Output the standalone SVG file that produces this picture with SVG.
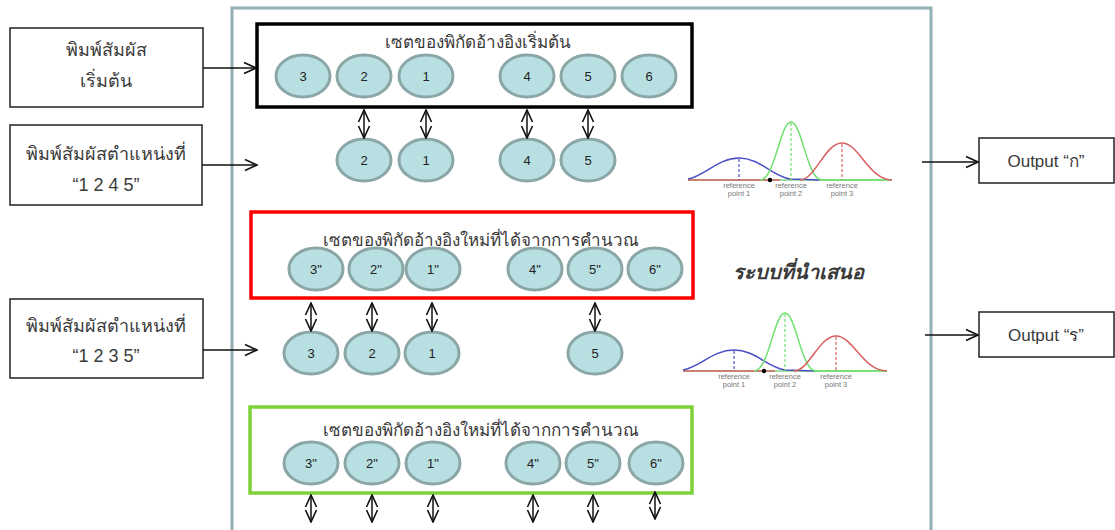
<svg xmlns="http://www.w3.org/2000/svg" width="1115" height="530" viewBox="0 0 1115 530">
  <style>
    .box { fill: #ffffff; stroke: #222222; stroke-width: 1.5; }
    .th { font-family: "Liberation Sans", "Noto Sans", "DejaVu Sans", sans-serif; fill: #3a3a3a; text-anchor: middle; }
    .lbl { font-size: 18px; }
    .ttl { font-size: 17px; }
    .num { font-family: "Liberation Sans", Arial, sans-serif; font-size: 13px; fill: #222222; text-anchor: middle; dominant-baseline: central; }
    .pt { fill: #b8dfe2; stroke: #8ba6a6; stroke-width: 3; }
    .link { stroke: #111111; stroke-width: 1.5; fill: none; }
    .dbl { stroke: #111111; stroke-width: 1.5; fill: none; marker-start: url(#open); marker-end: url(#open); }
    .ref { font-family: "Liberation Sans", Arial, sans-serif; font-size: 7.5px; fill: #777777; text-anchor: middle; }
    .curve { fill: none; stroke-width: 1.5; }
    .dash { fill: none; stroke-width: 1.2; stroke-dasharray: 3 2; }
  </style>
  <defs>
    <marker id="open" viewBox="0 0 14 14" refX="13" refY="7" markerWidth="14" markerHeight="14" markerUnits="userSpaceOnUse" orient="auto-start-reverse">
      <path d="M1,1.5 L13,7 L1,12.5" fill="none" stroke="#111111" stroke-width="1.6"/>
    </marker>
  </defs>
  <rect width="1115" height="530" fill="#ffffff"/>

  <!-- system frame -->
  <g id="system">
    <rect x="232" y="8" width="699" height="540" fill="none" stroke="#93b0b4" stroke-width="3"/>
    <text x="798" y="279" class="th" font-size="20" font-weight="bold" font-style="italic" fill="#111111">ระบบที่นำเสนอ</text>
  </g>

  <!-- inputs -->
  <g id="input-start">
    <rect x="10" y="28" width="193" height="79" class="box"/>
    <text x="106" y="56" class="th lbl">พิมพ์สัมผัส</text>
    <text x="106" y="87" class="th lbl">เริ่มต้น</text>
  </g>
  <g id="input-1245">
    <rect x="10" y="125" width="192" height="80" class="box"/>
    <text x="106" y="160" class="th lbl">พิมพ์สัมผัสตำแหน่งที่</text>
    <text x="106" y="191" class="th lbl">“1 2 4 5”</text>
  </g>
  <g id="input-1235">
    <rect x="10" y="299" width="193" height="79" class="box"/>
    <text x="106" y="332" class="th lbl">พิมพ์สัมผัสตำแหน่งที่</text>
    <text x="106" y="362" class="th lbl">“1 2 3 5”</text>
  </g>

  <!-- initial reference set -->
  <g id="set-initial">
    <rect x="257" y="24" width="435" height="83" fill="none" stroke="#000000" stroke-width="3.5"/>
    <text x="478" y="48" class="th ttl">เซตของพิกัดอ้างอิงเริ่มต้น</text>
    <ellipse cx="303" cy="76" rx="27" ry="21" class="pt"/><text x="303" y="76" class="num">3</text>
    <ellipse cx="364" cy="76" rx="27" ry="21" class="pt"/><text x="364" y="76" class="num">2</text>
    <ellipse cx="426" cy="76" rx="27" ry="21" class="pt"/><text x="426" y="76" class="num">1</text>
    <ellipse cx="527" cy="76" rx="27" ry="21" class="pt"/><text x="527" y="76" class="num">4</text>
    <ellipse cx="588" cy="76" rx="27" ry="21" class="pt"/><text x="588" y="76" class="num">5</text>
    <ellipse cx="649" cy="76" rx="27" ry="21" class="pt"/><text x="649" y="76" class="num">6</text>
  </g>

  <!-- touched points 1 2 4 5 -->
  <g id="touch-1245">
    <ellipse cx="364" cy="160" rx="27" ry="21" class="pt"/><text x="364" y="160" class="num">2</text>
    <ellipse cx="426" cy="160" rx="27" ry="21" class="pt"/><text x="426" y="160" class="num">1</text>
    <ellipse cx="527" cy="160" rx="27" ry="21" class="pt"/><text x="527" y="160" class="num">4</text>
    <ellipse cx="588" cy="160" rx="27" ry="21" class="pt"/><text x="588" y="160" class="num">5</text>
  </g>

  <!-- first computed set -->
  <g id="set-computed-1">
    <rect x="251" y="212" width="442" height="86" fill="none" stroke="#ff0000" stroke-width="3.5"/>
    <text x="481" y="246" class="th ttl">เซตของพิกัดอ้างอิงใหม่ที่ได้จากการคำนวณ</text>
    <ellipse cx="316" cy="269" rx="27" ry="21" class="pt"/><text x="316" y="269" class="num">3"</text>
    <ellipse cx="376" cy="269" rx="27" ry="21" class="pt"/><text x="376" y="269" class="num">2"</text>
    <ellipse cx="433" cy="269" rx="27" ry="21" class="pt"/><text x="433" y="269" class="num">1"</text>
    <ellipse cx="535" cy="269" rx="27" ry="21" class="pt"/><text x="535" y="269" class="num">4"</text>
    <ellipse cx="595" cy="269" rx="27" ry="21" class="pt"/><text x="595" y="269" class="num">5"</text>
    <ellipse cx="655" cy="269" rx="27" ry="21" class="pt"/><text x="655" y="269" class="num">6"</text>
  </g>

  <!-- touched points 1 2 3 5 -->
  <g id="touch-1235">
    <ellipse cx="311" cy="353" rx="27" ry="21" class="pt"/><text x="311" y="353" class="num">3</text>
    <ellipse cx="372" cy="353" rx="27" ry="21" class="pt"/><text x="372" y="353" class="num">2</text>
    <ellipse cx="432" cy="353" rx="27" ry="21" class="pt"/><text x="432" y="353" class="num">1</text>
    <ellipse cx="595" cy="353" rx="27" ry="21" class="pt"/><text x="595" y="353" class="num">5</text>
  </g>

  <!-- second computed set -->
  <g id="set-computed-2">
    <rect x="250" y="407" width="442" height="86" fill="none" stroke="#7fd13a" stroke-width="3.5"/>
    <text x="481" y="436" class="th ttl">เซตของพิกัดอ้างอิงใหม่ที่ได้จากการคำนวณ</text>
    <ellipse cx="311" cy="463" rx="27" ry="21" class="pt"/><text x="311" y="463" class="num">3"</text>
    <ellipse cx="372" cy="463" rx="27" ry="21" class="pt"/><text x="372" y="463" class="num">2"</text>
    <ellipse cx="433" cy="463" rx="27" ry="21" class="pt"/><text x="433" y="463" class="num">1"</text>
    <ellipse cx="533" cy="463" rx="27" ry="21" class="pt"/><text x="533" y="463" class="num">4"</text>
    <ellipse cx="593" cy="463" rx="27" ry="21" class="pt"/><text x="593" y="463" class="num">5"</text>
    <ellipse cx="656" cy="463" rx="27" ry="21" class="pt"/><text x="656" y="463" class="num">6"</text>
  </g>

  <!-- distribution charts -->
  <g id="chart-1">
    <line x1="688" y1="180" x2="892" y2="180" stroke="#7fd87f" stroke-width="1.5"/>
    <line x1="688" y1="180" x2="780" y2="180" stroke="#d96060" stroke-width="1.5"/>
    <path class="curve" stroke="#4a4fc4" d="M688,179 C705,176 718,158 739,158 C760,158 772,176 790,179 L820,180"/>
    <path class="curve" stroke="#6ee06e" d="M760,180 C775,180 780,122 791,122 C802,122 807,180 822,180 L892,180"/>
    <path class="curve" stroke="#d96060" d="M800,180 C815,180 825,143 842,143 C859,143 869,180 892,180"/>
    <line x1="739" y1="159" x2="739" y2="180" class="dash" stroke="#4a4fc4"/>
    <line x1="791" y1="123" x2="791" y2="180" class="dash" stroke="#6ee06e"/>
    <line x1="842" y1="144" x2="842" y2="180" class="dash" stroke="#d96060"/>
    <circle cx="770" cy="180" r="2.2" fill="#000000"/>
    <text x="739" y="188" class="ref">reference</text><text x="739" y="196" class="ref">point 1</text>
    <text x="791" y="188" class="ref">reference</text><text x="791" y="196" class="ref">point 2</text>
    <text x="842" y="188" class="ref">reference</text><text x="842" y="196" class="ref">point 3</text>
  </g>
  <g id="chart-2">
    <line x1="683" y1="371" x2="887" y2="371" stroke="#7fd87f" stroke-width="1.5"/>
    <line x1="683" y1="371" x2="775" y2="371" stroke="#d96060" stroke-width="1.5"/>
    <path class="curve" stroke="#4a4fc4" d="M683,370 C700,367 713,350 734,350 C755,350 767,367 785,370 L815,371"/>
    <path class="curve" stroke="#6ee06e" d="M754,371 C769,371 774,313 785,313 C796,313 801,371 816,371 L887,371"/>
    <path class="curve" stroke="#d96060" d="M794,371 C809,371 819,336 836,336 C853,336 863,371 887,371"/>
    <line x1="734" y1="351" x2="734" y2="371" class="dash" stroke="#4a4fc4"/>
    <line x1="785" y1="314" x2="785" y2="371" class="dash" stroke="#6ee06e"/>
    <line x1="836" y1="337" x2="836" y2="371" class="dash" stroke="#d96060"/>
    <circle cx="764" cy="371" r="2.2" fill="#000000"/>
    <text x="734" y="379" class="ref">reference</text><text x="734" y="387" class="ref">point 1</text>
    <text x="785" y="379" class="ref">reference</text><text x="785" y="387" class="ref">point 2</text>
    <text x="836" y="379" class="ref">reference</text><text x="836" y="387" class="ref">point 3</text>
  </g>

  <!-- outputs -->
  <g id="output-ko">
    <rect x="979" y="138" width="135" height="45" class="box"/>
    <text x="1046" y="167" class="th" font-size="17">Output “ก”</text>
  </g>
  <g id="output-ro">
    <rect x="979" y="312" width="135" height="45" class="box"/>
    <text x="1046" y="341" class="th" font-size="17">Output “ร”</text>
  </g>

  <!-- connectors -->
  <g id="connectors">
    <line x1="203" y1="68" x2="256" y2="68" class="link" marker-end="url(#open)"/>
    <line x1="202" y1="165" x2="257" y2="165" class="link" marker-end="url(#open)"/>
    <line x1="203" y1="350" x2="257" y2="350" class="link" marker-end="url(#open)"/>
    <line x1="922" y1="162" x2="978" y2="162" class="link" marker-end="url(#open)"/>
    <line x1="925" y1="335" x2="978" y2="335" class="link" marker-end="url(#open)"/>

    <line x1="364" y1="110" x2="364" y2="138" class="dbl"/>
    <line x1="426" y1="110" x2="426" y2="138" class="dbl"/>
    <line x1="527" y1="110" x2="527" y2="138" class="dbl"/>
    <line x1="588" y1="110" x2="588" y2="138" class="dbl"/>

    <line x1="311" y1="303" x2="311" y2="331" class="dbl"/>
    <line x1="372" y1="303" x2="372" y2="331" class="dbl"/>
    <line x1="432" y1="303" x2="432" y2="331" class="dbl"/>
    <line x1="595" y1="303" x2="595" y2="331" class="dbl"/>

    <line x1="311" y1="495" x2="311" y2="522" class="dbl"/>
    <line x1="372" y1="495" x2="372" y2="522" class="dbl"/>
    <line x1="433" y1="495" x2="433" y2="522" class="dbl"/>
    <line x1="533" y1="495" x2="533" y2="522" class="dbl"/>
    <line x1="593" y1="495" x2="593" y2="522" class="dbl"/>
    <line x1="655" y1="492" x2="655" y2="519" class="dbl"/>
  </g>
</svg>
